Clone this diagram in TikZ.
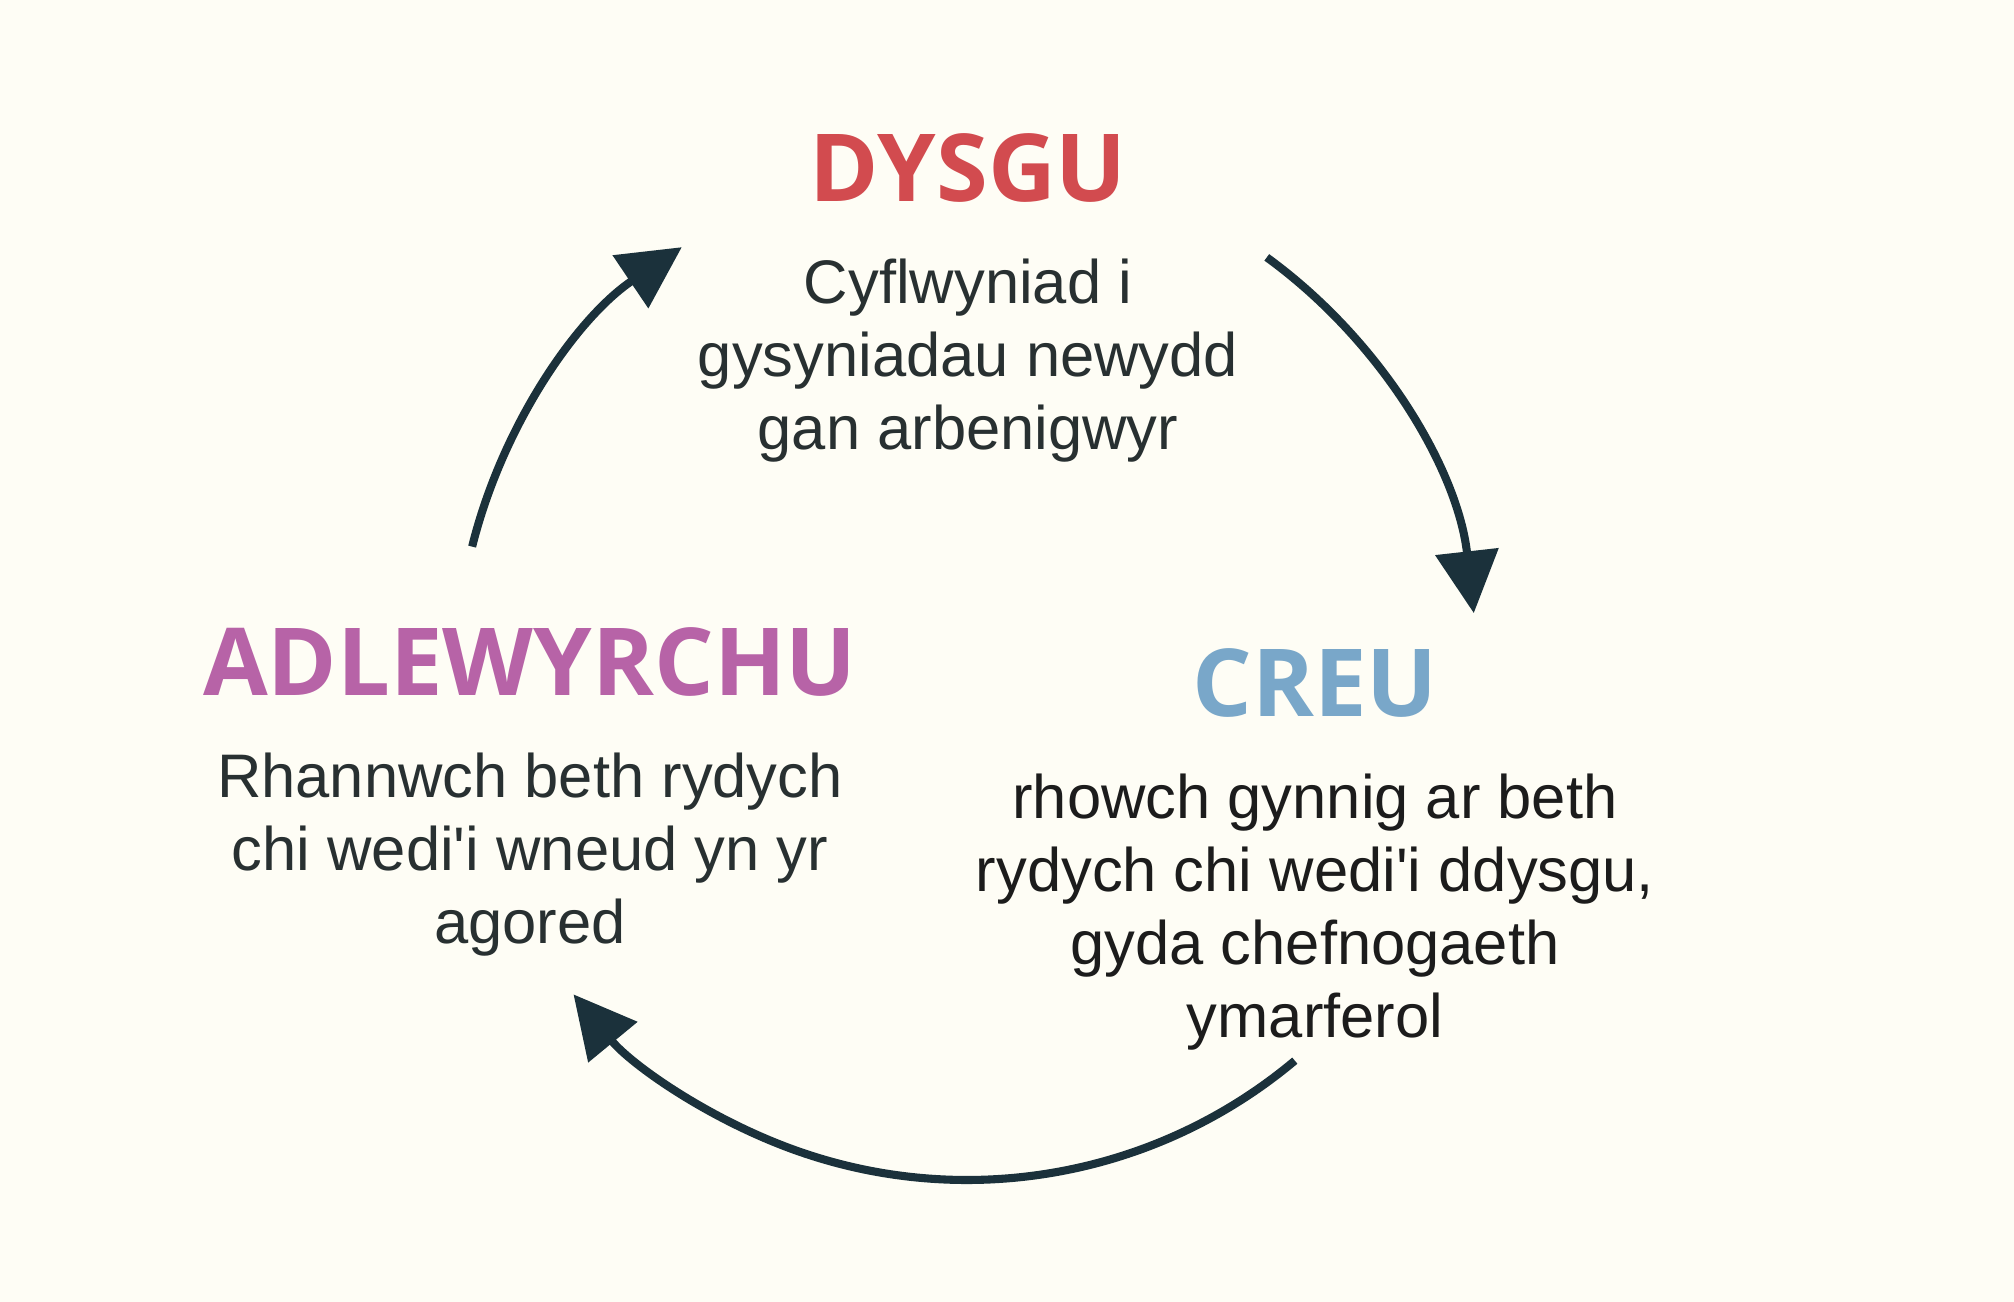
\documentclass[tikz,border=0pt]{standalone}
\usepackage{fontspec}
\setmainfont{Liberation Sans}
\newfontfamily\headfont{Open Sans}
\usepackage{tikz}
\usetikzlibrary{arrows.meta,positioning}
\definecolor{CycBack}{HTML}{FEFDF5}
\definecolor{CycArrow}{HTML}{1B313B}
\definecolor{CycText}{HTML}{283031}
\definecolor{CycTextB}{HTML}{1C1C1C}
\definecolor{CycRed}{HTML}{D24B4F}
\definecolor{CycPurple}{HTML}{B763A7}
\definecolor{CycBlue}{HTML}{79A7C9}

\begin{document}
\begin{tikzpicture}[x=1cm,y=1cm,
  head/.style={inner sep=0pt,anchor=base,font=\headfont\bfseries\fontsize{26.7}{30}\selectfont},
  blurb/.style={inner sep=0pt,align=center,text=CycText,font=\fontsize{17.5}{20.7}\selectfont},
  cyc/.style={draw=CycArrow,line width=2.3pt,-{Triangle[length=0.62cm,width=0.62cm]}},
  node distance=0.55cm]
  \fill[CycBack] (0,0) rectangle (20.14,13.02);
  \useasboundingbox (0,0) rectangle (20.14,13.02);

  % the three stages
  \node[head,text=CycRed] (dysgu) at (9.68,11.00) {DYSGU};
  \node[blurb,below=of dysgu] (dysgutxt) {Cyflwyniad i\\gysyniadau newydd\\gan arbenigwyr};

  \node[head,text=CycBlue] (creu) at (13.15,5.85) {CREU};
  \node[blurb,text=CycTextB,below=of creu] (creutxt) {rhowch gynnig ar beth\\rydych chi wedi\textquotesingle i ddysgu,\\gyda chefnogaeth\\ymarferol};

  \node[head,text=CycPurple] (adlew) at (5.30,6.06) {ADLEWYRCHU};
  \node[blurb,below=of adlew] (adlewtxt) {Rhannwch beth rydych\\chi wedi\textquotesingle i wneud yn yr\\agored};

  % cycle arrows
  \coordinate (hub) at (9.67,6.32);
  \draw[cyc] (hub) ++(54:5.1) arc[start angle=54,end angle=6.4,radius=5.1];
  \draw[cyc] (hub) ++(-50:5.1) arc[start angle=-50,end angle=-140.5,radius=5.1];
  \draw[cyc] (hub) ++(166:5.1) arc[start angle=166,end angle=124,radius=5.1];
\end{tikzpicture}
\end{document}
